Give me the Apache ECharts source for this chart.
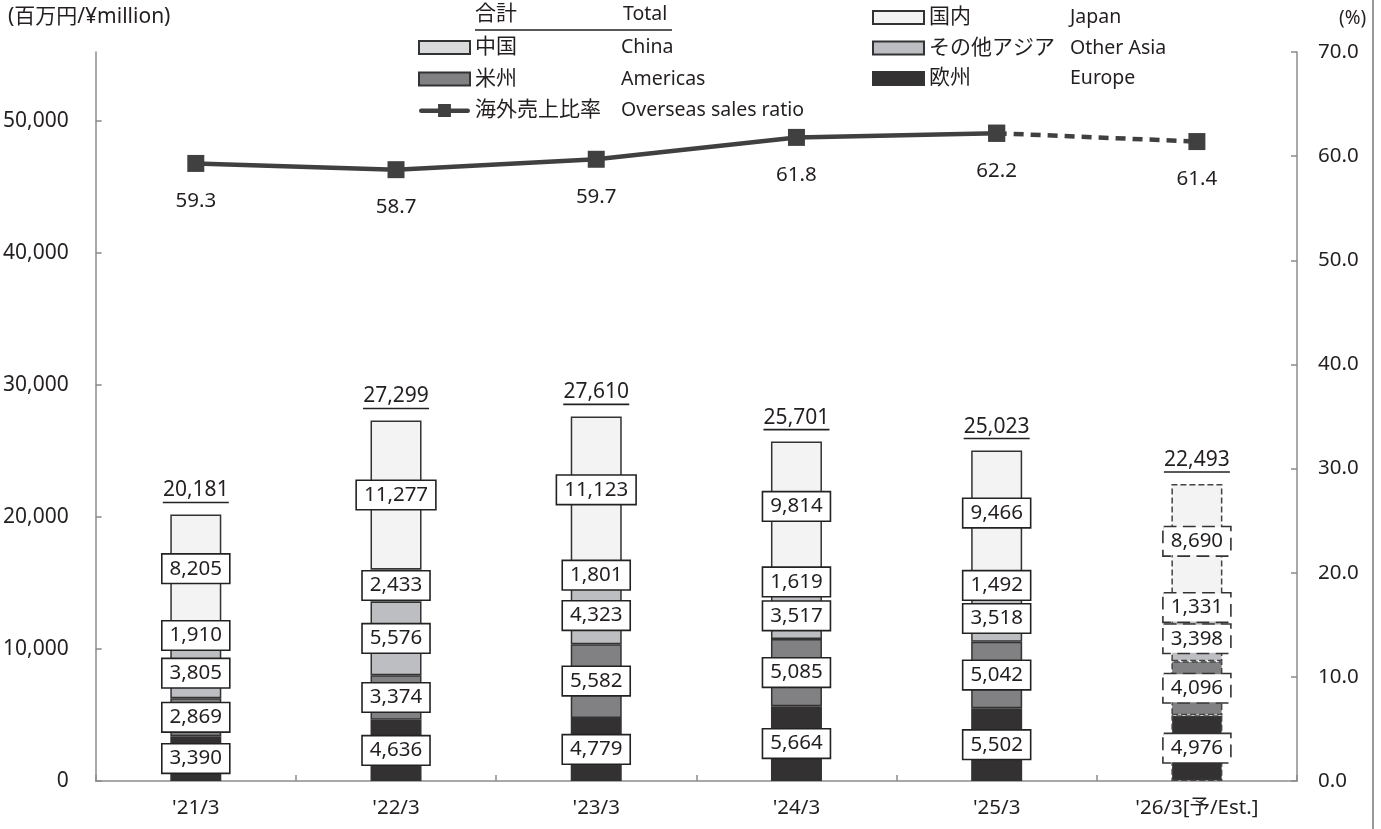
<!DOCTYPE html>
<html>
<head>
<meta charset="utf-8">
<script src="https://cdn.jsdelivr.net/npm/echarts@6/dist/echarts.min.js"></script>
<style>
html,body{margin:0;padding:0;background:#fff;}
#chart{width:1381px;height:829px;}
</style>
</head>
<body>
<div id="chart"></div>
<script>
const categories = ["'21/3", "'22/3", "'23/3", "'24/3", "'25/3", "'26/3[予/Est.]"];
const europe    = [3390, 4636, 4779, 5664, 5502, 4976];
const americas  = [2869, 3374, 5582, 5085, 5042, 4096];
const otherAsia = [3805, 5576, 4323, 3517, 3518, 3398];
const china     = [1910, 2433, 1801, 1619, 1492, 1331];
const japan     = [8205, 11277, 11123, 9814, 9466, 8690];
const totals    = [20181, 27299, 27610, 25701, 25023, 22493];
const ratio     = [59.3, 58.7, 59.7, 61.8, 62.2, 61.4];
const leftTicks = [0, 10000, 20000, 30000, 40000, 50000];
const estIndex = 5;

const FONT = "'Noto Sans', 'Noto Sans CJK JP', sans-serif";
const TXT = '#231f20';
const fmt = v => Number(v).toLocaleString('en-US');

function barSeries(name, values, color) {
  return {
    name: name,
    type: 'bar',
    stack: 'sales',
    barWidth: 51,
    itemStyle: { color: color, borderColor: '#333', borderWidth: 1.5 },
    label: {
      show: true, position: 'inside',
      formatter: p => fmt(p.value),
      color: TXT, fontFamily: FONT, fontSize: 20.5, lineHeight: 24,
      backgroundColor: '#fff', borderColor: '#222', borderWidth: 1.6,
      padding: [2, 7, 2, 7]
    },
    data: values.map((v, i) => i === estIndex ? {
      value: v,
      itemStyle: { borderType: 'dashed', borderColor: '#444' },
      label: { borderType: 'dashed', borderColor: '#333' }
    } : v)
  };
}

const series = [
  barSeries('欧州', europe, '#333132'),
  barSeries('米州', americas, '#818184'),
  barSeries('その他アジア', otherAsia, '#bdbec1'),
  barSeries('中国', china, '#d9dadc'),
  barSeries('国内', japan, '#f2f3f2'),
  {
    name: 'total',
    type: 'bar',
    stack: 'sales',
    barWidth: 51,
    itemStyle: { color: 'transparent', borderWidth: 0 },
    label: {
      show: true, position: 'top', distance: 11,
      formatter: p => '{t|' + fmt(totals[p.dataIndex]) + '}\n{u|}',
      rich: {
        t: { color: TXT, fontFamily: FONT, fontSize: 21, lineHeight: 22 },
        u: { width: 66, height: 1.6, lineHeight: 2, backgroundColor: '#222' }
      }
    },
    data: totals.map(() => 0)
  },
  {
    name: '海外売上比率',
    type: 'line',
    yAxisIndex: 1,
    z: 10,
    symbol: 'rect', symbolSize: 17,
    itemStyle: { color: '#404041' },
    lineStyle: { color: '#404041', width: 4.5 },
    label: {
      show: true, position: 'bottom', distance: 19,
      formatter: p => p.value.toFixed(1),
      color: TXT, fontFamily: FONT, fontSize: 20.5
    },
    data: ratio.map((v, i) => i <= 4 ? v : '-')
  },
  {
    name: 'ratioEst',
    type: 'line',
    yAxisIndex: 1,
    z: 9,
    symbol: 'rect', symbolSize: 17,
    itemStyle: { color: '#404041' },
    lineStyle: { color: '#404041', width: 4.5, type: [10, 7] },
    label: {
      show: true, position: 'bottom', distance: 19,
      formatter: p => p.dataIndex === estIndex ? p.value.toFixed(1) : '',
      color: TXT, fontFamily: FONT, fontSize: 20.5
    },
    data: ratio.map((v, i) => i >= 4 ? v : '-')
  }
];

const legendText = (w) => ({
  fontFamily: FONT,
  rich: {
    jp: { width: w, fontSize: 21, color: TXT, fontFamily: FONT, lineHeight: 22 },
    en: { fontSize: 19.5, color: TXT, fontFamily: FONT, lineHeight: 22 }
  }
});
const enName = { '国内': 'Japan', '中国': 'China', 'その他アジア': 'Other Asia', '米州': 'Americas', '欧州': 'Europe', '海外売上比率': 'Overseas sales ratio' };
const lineIcon = 'path://M2,4.5H19V0H32V4.5H49A2.25,2.25,0,0,1,49,9H32V13H19V9H2A2.25,2.25,0,0,1,2,4.5Z';
const legendItem = n => n === '海外売上比率' ? { name: n, icon: lineIcon } : { name: n, icon: 'rect' };

const chart = echarts.init(document.getElementById('chart'));
chart.setOption({
  animation: false,
  backgroundColor: '#fff',
  textStyle: { fontFamily: FONT },
  grid: { left: 90, right: 84, top: 52, bottom: 48 },
  legend: [
    {
      orient: 'vertical', left: 418, top: 37, padding: 0, itemGap: 10.5,
      itemWidth: 51, itemHeight: 13, selectedMode: false,
      data: ['中国', '米州', '海外売上比率'].map(legendItem),
      formatter: n => '{jp|' + n + '}{en|' + enName[n] + '}',
      textStyle: legendText(146)
    },
    {
      orient: 'vertical', left: 872, top: 7, padding: 0, itemGap: 9.5,
      itemWidth: 51, itemHeight: 13, selectedMode: false,
      data: ['国内', 'その他アジア', '欧州'].map(legendItem),
      formatter: n => '{jp|' + n + '}{en|' + enName[n] + '}',
      textStyle: legendText(141)
    }
  ],
  xAxis: {
    type: 'category',
    data: categories,
    axisLine: { lineStyle: { color: '#8c8c8c', width: 1.5 } },
    axisTick: { show: true, inside: true, length: 6, lineStyle: { color: '#8c8c8c', width: 1.5 } },
    axisLabel: { color: TXT, fontFamily: FONT, fontSize: 20.5, margin: 17 }
  },
  yAxis: [
    {
      type: 'value', min: 0, max: 55200, interval: 10000,
      splitLine: { show: false },
      axisLine: { show: true, lineStyle: { color: '#8c8c8c', width: 1.5 } },
      axisTick: { show: true, inside: true, length: 6, customValues: leftTicks, lineStyle: { color: '#8c8c8c', width: 1.5 } },
      axisLabel: { color: TXT, fontFamily: FONT, fontSize: 21, margin: 27, customValues: leftTicks, formatter: v => fmt(v) }
    },
    {
      type: 'value', min: 0, max: 70, interval: 10,
      splitLine: { show: false },
      axisLine: { show: true, lineStyle: { color: '#8c8c8c', width: 1.5 } },
      axisTick: { show: true, inside: true, length: 6, lineStyle: { color: '#8c8c8c', width: 1.5 } },
      axisLabel: { color: TXT, fontFamily: FONT, fontSize: 20.5, margin: 21, formatter: v => v.toFixed(1) }
    }
  ],
  graphic: [
    { type: 'text', left: 8, top: 7, style: { text: '(百万円/¥million)', fontSize: 21, fontFamily: FONT, fill: TXT } },
    { type: 'text', left: 1339, top: 9, style: { text: '(%)', fontSize: 19, fontFamily: FONT, fill: TXT } },
    { type: 'text', left: 475, top: 4, style: { text: '合計', fontSize: 21, fontFamily: FONT, fill: TXT } },
    { type: 'text', left: 623, top: 5, style: { text: 'Total', fontSize: 19.5, fontFamily: FONT, fill: TXT } },
    { type: 'line', shape: { x1: 475, y1: 30, x2: 672, y2: 30 }, style: { stroke: '#222', lineWidth: 1.6 } },
    { type: 'line', shape: { x1: 1373, y1: 0, x2: 1373, y2: 829 }, style: { stroke: '#777', lineWidth: 1.5 } }
  ],
  series: series
});
</script>
</body>
</html>
